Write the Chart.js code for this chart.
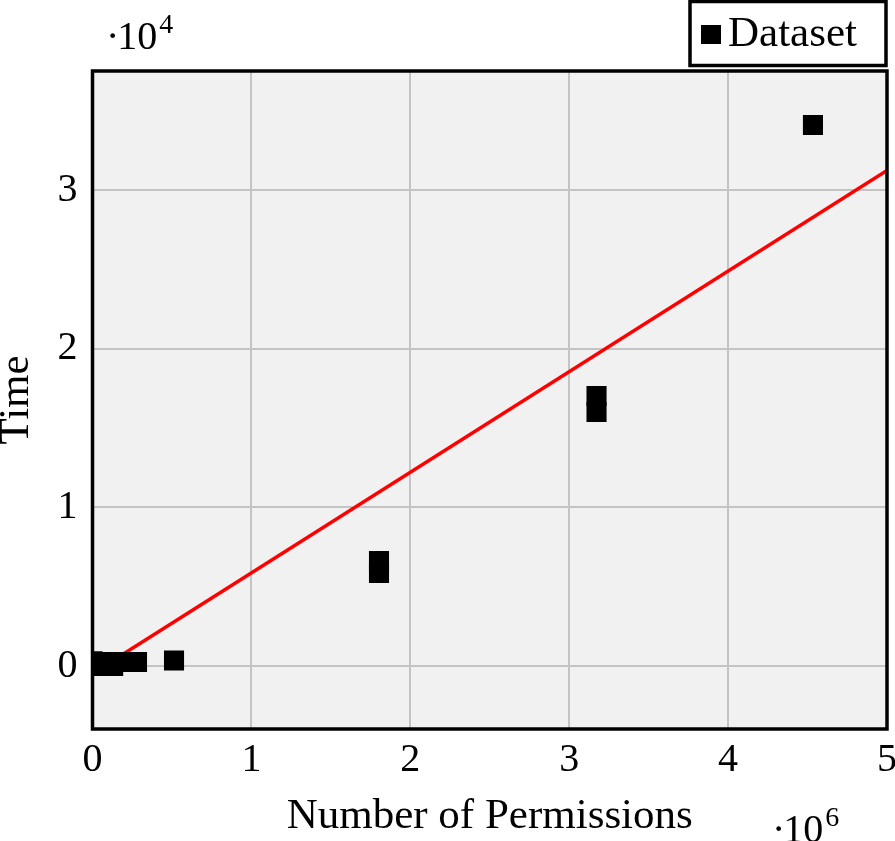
<!DOCTYPE html>
<html>
<head>
<meta charset="utf-8">
<script src="https://cdn.jsdelivr.net/npm/chart.js@4.4.0/dist/chart.umd.min.js"></script>
<style>
  html, body { margin: 0; padding: 0; background: #fff; }
</style>
</head>
<body>
<canvas id="myChart" width="895" height="841"></canvas>
<script>
// data (x = number of permissions, y = time)
var permissions = [0, 30000, 70000, 130000, 180000, 280000, 513000, 1803000, 1803000, 3172000, 3172000, 4534000];
var times = [300, 0, 250, 0, 250, 250, 350, 5860, 6620, 16010, 17020, 34100];

// red fit line, end points
var trendX = [0, 5000000];
var trendY = [-470, 31230];

var xTicks = [0, 1000000, 2000000, 3000000, 4000000, 5000000];
var yTicks = [0, 10000, 20000, 30000];

var serif = "'Liberation Serif', 'Times New Roman', serif";

var points = permissions.map((x, i) => ({ x: x, y: times[i] }));
var trend = trendX.map((x, i) => ({ x: x, y: trendY[i] }));

// background, frame, legend box and the 10^n factors
const decorations = {
  id: 'decorations',
  beforeDraw(chart) {
    const { ctx, chartArea } = chart;
    ctx.save();
    ctx.fillStyle = '#f1f1f1';
    ctx.fillRect(chartArea.left, chartArea.top, chartArea.right - chartArea.left, chartArea.bottom - chartArea.top);
    ctx.restore();
  },
  afterDraw(chart) {
    const { ctx, chartArea } = chart;
    ctx.save();
    ctx.strokeStyle = '#000';
    ctx.lineWidth = 3.5;
    ctx.strokeRect(chartArea.left, chartArea.top, chartArea.right - chartArea.left, chartArea.bottom - chartArea.top);

    // legend
    const right = chartArea.right - 1;
    ctx.fillStyle = '#fff';
    ctx.fillRect(690, 1.5, right - 690, 64);
    ctx.strokeRect(690, 1.5, right - 690, 64);
    ctx.fillStyle = '#000';
    ctx.fillRect(701, 25, 20, 19);
    ctx.font = '43px ' + serif;
    ctx.textBaseline = 'alphabetic';
    ctx.textAlign = 'left';
    ctx.fillText(chart.data.datasets[0].label, 728, 46);

    // multipliers
    function factor(x, y, exp) {
      ctx.font = '40px ' + serif;
      ctx.fillText('\u00b7', x, y);
      let w = ctx.measureText('\u00b7').width;
      ctx.fillText('10', x + w - 2, y);
      w += ctx.measureText('10').width;
      ctx.font = '28px ' + serif;
      ctx.fillText(exp, x + w, y - 16);
    }
    factor(106, 49, '4');
    factor(772, 842, '6');
    ctx.restore();
  }
};

new Chart("myChart", {
  type: "scatter",
  data: {
    datasets: [{
      label: "Dataset",
      data: points,
      pointStyle: "rect",
      pointRadius: 14.2,
      pointHoverRadius: 14.2,
      backgroundColor: "#000",
      borderColor: "#000",
      borderWidth: 0,
      order: 1
    }, {
      type: "line",
      label: "fit",
      data: trend,
      borderColor: "#ff0000",
      borderWidth: 3.5,
      pointRadius: 0,
      fill: false,
      order: 2
    }]
  },
  options: {
    responsive: false,
    animation: false,
    layout: {
      autoPadding: false,
      padding: { top: 71, right: 8, left: 0, bottom: 0 }
    },
    plugins: {
      legend: { display: false },
      tooltip: { enabled: false }
    },
    scales: {
      x: {
        type: "linear",
        min: 0,
        max: 5000000,
        afterBuildTicks: (axis) => { axis.ticks = xTicks.map(v => ({ value: v })) },
        afterFit: (axis) => {
          axis.height = 112;
          axis.paddingLeft = 0;
          axis.paddingRight = 0;
        },
        grid: { color: "#c4c4c4", lineWidth: 2, drawTicks: false },
        border: { display: false },
        ticks: {
          color: "#000",
          padding: 11,
          maxRotation: 0,
          font: { family: serif, size: 40, lineHeight: 1 },
          callback: (v) => v / 1000000
        },
        title: {
          display: true,
          text: "Number of Permissions",
          color: "#000",
          font: { family: serif, size: 43, lineHeight: 1 },
          padding: { top: 0, bottom: 3 }
        }
      },
      y: {
        type: "linear",
        min: -3970,
        max: 37500,
        afterBuildTicks: (axis) => { axis.ticks = yTicks.map(v => ({ value: v })) },
        afterFit: (axis) => { axis.width = 92.5 },
        grid: { color: "#c4c4c4", lineWidth: 2, drawTicks: false },
        border: { display: false },
        ticks: {
          color: "#000",
          padding: 15,
          font: { family: serif, size: 40, lineHeight: 1 },
          callback: (v) => v / 10000
        },
        title: {
          display: true,
          text: "Time",
          color: "#000",
          font: { family: serif, size: 43, lineHeight: 0.8 },
          padding: { top: 0, bottom: 0 }
        }
      }
    }
  },
  plugins: [decorations]
});
</script>
</body>
</html>
